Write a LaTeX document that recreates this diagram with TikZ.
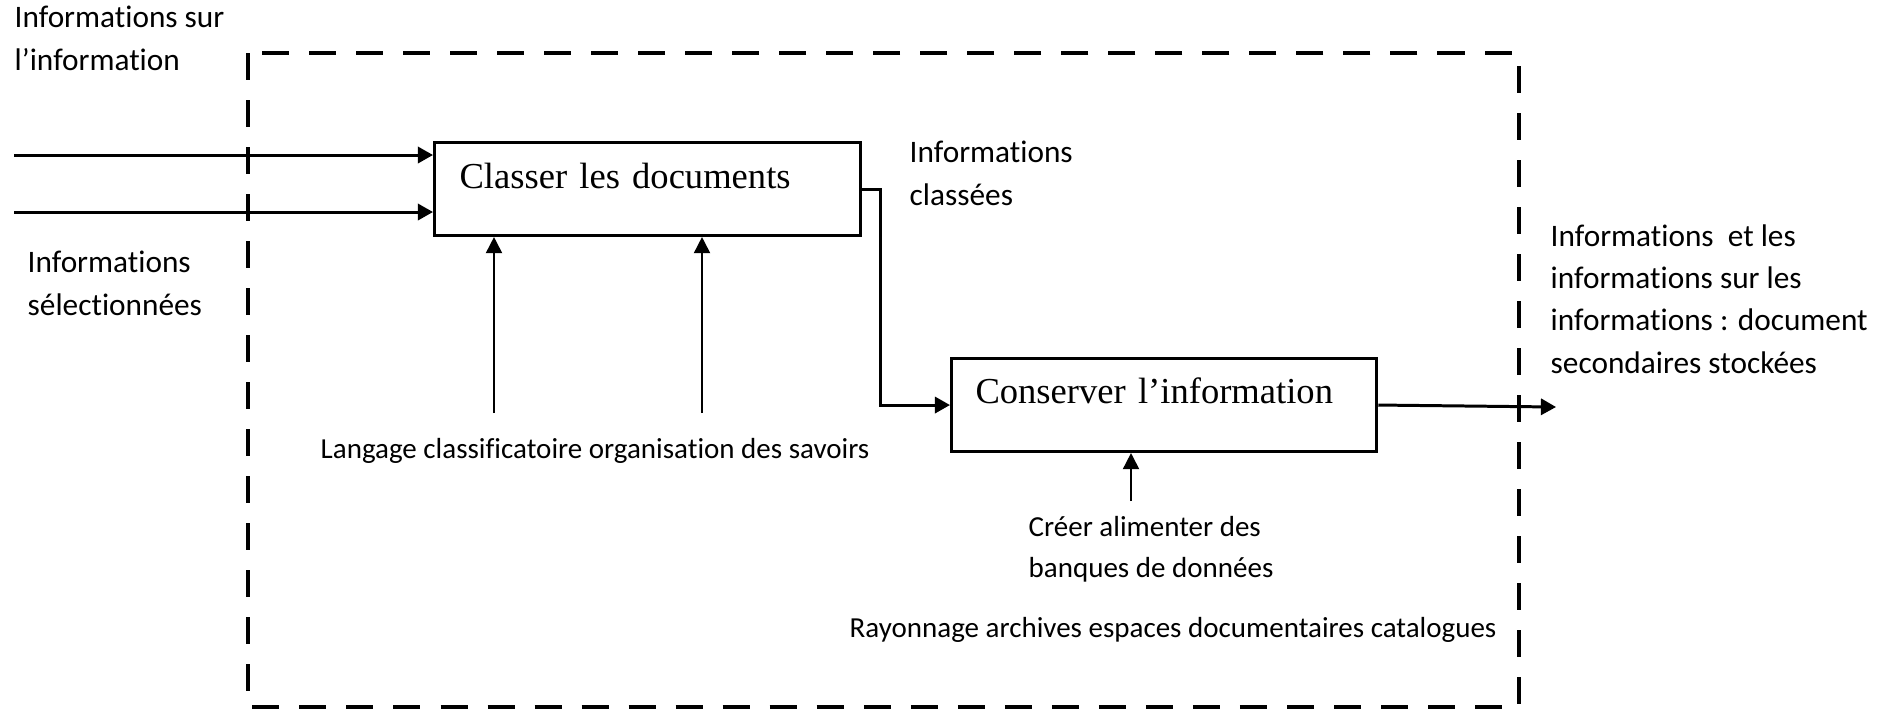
\documentclass[tikz,border=0pt]{standalone}
\usepackage{fontspec}
\setmainfont[Ligatures=NoCommon]{Carlito}
\newfontfamily\boxfont{Liberation Serif}
\usetikzlibrary{arrows.meta}
\tikzset{
	txt/.style={inner sep=0pt, font=\fontsize{8.9}{11.95}\selectfont, align=left},
	txtpetit/.style={txt, font=\fontsize{8.25}{11.4}\selectfont},
	procbox/.style={draw, line width=0.85pt, inner ysep=0pt, align=left, font=\boxfont\fontsize{10.4}{12.5}\selectfont},
	flow/.style={line width=0.85pt, -{Triangle[length=4.3pt,width=4.6pt]}},
	ctrl/.style={line width=0.5pt, -{Triangle[length=4.6pt,width=4.6pt]}},
	frontiere/.style={line width=1.4pt, dash pattern=on 0.27cm off 0.2cm},
}
\begin{document}
\begin{tikzpicture}[x=0.01cm, y=-0.01cm]
			\useasboundingbox (0,0) rectangle (1892,711);
			% limite du systeme
			\draw[frontiere] (248,53) rectangle (1519,707);
			% activites
			\node[procbox, anchor=north west, inner xsep=0.25cm, text width=3.76cm, text height=0.46cm, text depth=0.47cm] (classer) at (433,141) {Classer les documents};
			\node[procbox, anchor=north west, inner xsep=0.24cm, text width=3.77cm, text height=0.45cm, text depth=0.48cm] (conserver) at (950,357) {Conserver l’information};
			% textes (ancre sur la derniere ligne)
			\node[txt, anchor=base west] (infsur) at (14,70) {Informations sur\\l’information};
			\node[txt, anchor=base west] (infsel) at (27,315) {Informations\\sélectionnées};
			\node[txt, anchor=base west] (infcla) at (909,205) {Informations\\classées};
			\node[txtpetit, anchor=base west] (lang) at (320,458) {Langage classificatoire organisation des savoirs};
			\node[txtpetit, anchor=base west] (creer) at (1028,577) {Créer alimenter des\\banques de données};
			\node[txtpetit, anchor=base east] (rayon) at (1497,637) {Rayonnage archives espaces documentaires catalogues};
			\node[txt, anchor=base west] (infout) at (1550,373) {Informations~ et les\\informations sur les\\informations : document\\secondaires stockées};
			% entrees
			\coordinate (in1) at (14,155);
			\coordinate (in2) at (14,212);
			\draw[flow] (in1) -- (in1 -| classer.west);
			\draw[flow] (in2) -- (in2 -| classer.west);
			% controles
			\coordinate (c1) at (494,413);
			\coordinate (c2) at (702,413);
			\coordinate (c3) at (1131,501);
			\draw[ctrl] (c1) -- (c1 |- classer.south);
			\draw[ctrl] (c2) -- (c2 |- classer.south);
			\draw[ctrl] (c3) -- (c3 |- conserver.south);
			% liaison et sortie
			\draw[flow] (classer.east) -- ++(18,0) |- (conserver.west);
			\coordinate (out) at (1556,407);
			\draw[flow] (conserver.east) -- (out);
		\end{tikzpicture}
\end{document}
